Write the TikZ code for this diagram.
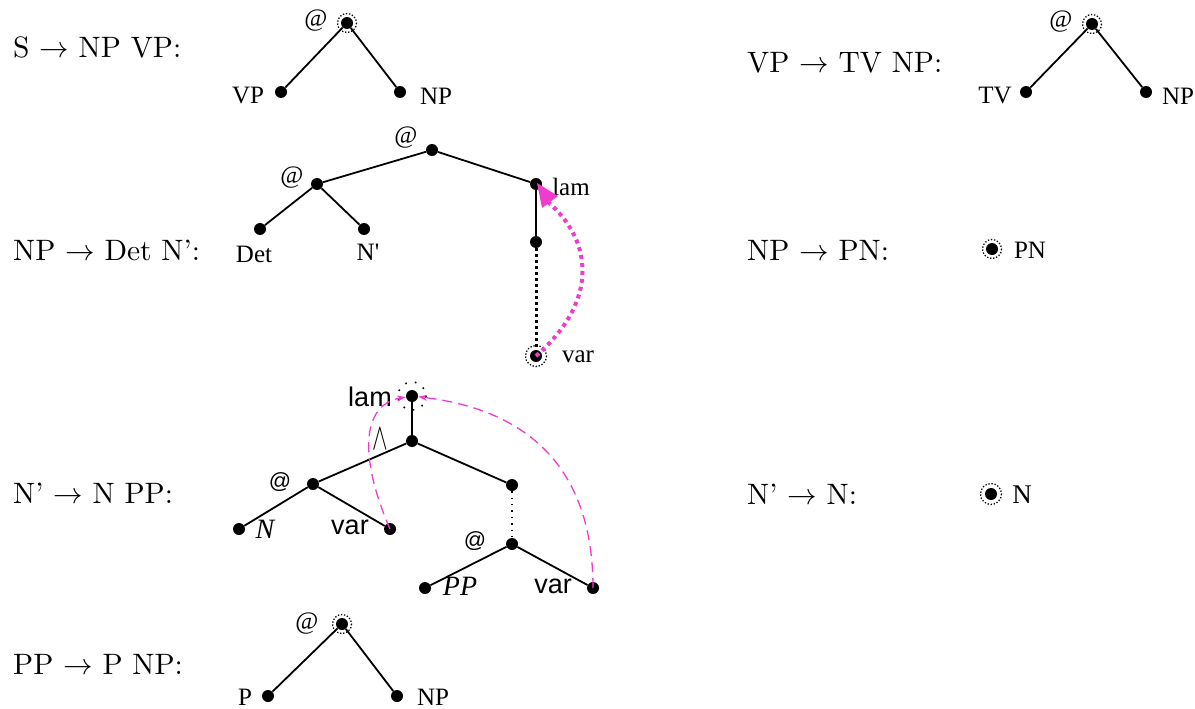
\documentclass[tikz,border=0pt]{standalone}
\usepackage{fix-cm}
\usepackage{graphicx}
\usepackage{fontspec}
\setmainfont{lmroman10-regular.otf}
\newfontfamily\tms{Liberation Serif}
\newfontfamily\hlv{Liberation Sans}
\usetikzlibrary{arrows.meta}
\definecolor{mag}{RGB}{240,60,205}
\tikzset{
  dot/.style={circle, fill=black, inner sep=0pt, minimum size=12pt},
  edge/.style={line width=1.8pt},
  rule/.style={anchor=west, inner sep=0pt, font=\fontsize{29.5}{34}\selectfont},
  tl/.style={inner sep=0pt, font=\fontsize{25}{30}\selectfont\tms},
  sl/.style={inner sep=0pt, font=\fontsize{27}{32}\selectfont\hlv},
  il/.style={inner sep=0pt, font=\fontsize{28}{32}\selectfont\tms\itshape},
  ring/.style={line width=1.3pt, dash pattern=on 1.3pt off 1.8pt},
  thindots/.style={line width=1.4pt, dash pattern=on 1.4pt off 5pt},
  thickdots/.style={line width=3pt, dash pattern=on 3pt off 3pt},
  magdots/.style={mag, line width=4pt, dash pattern=on 4pt off 4pt},
  magdash/.style={mag, line width=1.3pt, dash pattern=on 10pt off 6pt, -{Stealth[length=9pt,width=6pt]}}
}
\begin{document}
\begin{tikzpicture}[x=1pt,y=-1pt]
\useasboundingbox (0,0) rectangle (1195,709);
% rule labels
\node[rule] (l1) at (13,47) {S $\rightarrow$ NP VP:};
\node[rule] (l2) at (747,63) {VP $\rightarrow$ TV NP:};
\node[rule] (l3) at (13,250) {NP $\rightarrow$ Det N':};
\node[rule] (l4) at (747,250) {NP $\rightarrow$ PN:};
\node[rule] (l5) at (13,493) {N' $\rightarrow$ N PP:};
\node[rule] (l6) at (747,494) {N' $\rightarrow$ N:};
\node[rule] (l7) at (13,664) {PP $\rightarrow$ P NP:};

% tree 1: S -> NP VP
\node[dot] (a1) at (347,23) {};
\node[dot] (a1l) at (281,92) {};
\node[dot] (a1r) at (400,92) {};
\draw[ring] (a1) circle[radius=9.5];
\draw[edge] (a1) -- (a1l);
\draw[edge] (a1) -- (a1r);
\node[tl] (a1at) at (316,21) {@};
\node[tl] (a1vp) at (248,96) {VP};
\node[tl] (a1np) at (436,96) {NP};

% tree 2: VP -> TV NP
\node[dot] (b1) at (1092,24) {};
\node[dot] (b1l) at (1026,92) {};
\node[dot] (b1r) at (1146,92) {};
\draw[ring] (b1) circle[radius=9.5];
\draw[edge] (b1) -- (b1l);
\draw[edge] (b1) -- (b1r);
\node[tl] (b1at) at (1061,22) {@};
\node[tl] (b1tv) at (995,96) {TV};
\node[tl] (b1np) at (1178,96) {NP};

% tree 3: NP -> Det N'
\node[dot] (c0) at (432,150) {};
\node[dot] (c1) at (317,184) {};
\node[dot] (c1l) at (260,229) {};
\node[dot] (c1r) at (364,229) {};
\node[dot] (c2) at (536,184) {};
\node[dot] (c3) at (536,242) {};
\node[dot] (c4) at (536,356) {};
\draw[ring] (c4) circle[radius=10.5];
\draw[edge] (c0) -- (c1);
\draw[edge] (c0) -- (c2);
\draw[edge] (c1) -- (c1l);
\draw[edge] (c1) -- (c1r);
\draw[edge] (c2) -- (c3);
\draw[thickdots] (c3) -- (c4);
\node[tl] (c0at) at (406,138) {@};
\node[tl] (c1at) at (292,178) {@};
\node[tl] (cdet) at (254,254) {Det};
\node[tl] (cn) at (368,252) {N'};
\node[tl] (clam) at (571,187) {lam};
\node[tl] (cvar) at (578,357) {var};
\draw[magdots] (c4.center) .. controls (600,300) and (592,240) .. (548,202);
\coordinate (ctip) at (537,183);
\fill[mag] (ctip) -- (558,196) -- (542,208) -- cycle;

% single nodes
\node[dot] (d1) at (992,249) {};
\draw[ring] (d1) circle[radius=9.5];
\node[tl] (dpn) at (1030,250) {PN};
\node[dot] (e1) at (991,494) {};
\draw[ring] (e1) circle[radius=10.5];
\node[tl, font=\fontsize{27}{32}\selectfont\tms] (en) at (1022,495) {N};

% tree 4: N' -> N PP
\node[dot] (f0) at (412,396) {};
\draw[line width=1.6pt, dash pattern=on 1.6pt off 8.2pt] (f0) circle[radius=14];
\node[dot] (f1) at (412,441) {};
\node[dot] (f2) at (313,484) {};
\node[dot] (f2l) at (239,529) {};
\node[dot] (f2r) at (390,529) {};
\node[dot] (f3) at (512,485) {};
\node[dot] (f4) at (512,544) {};
\node[dot] (f4l) at (425,588) {};
\node[dot] (f4r) at (593,588) {};
\draw[edge] (f0) -- (f1);
\draw[edge] (f1) -- (f2);
\draw[edge] (f1) -- (f3);
\draw[edge] (f2) -- (f2l);
\draw[edge] (f2) -- (f2r);
\draw[thindots] (f3) -- (f4);
\draw[edge] (f4) -- (f4l);
\draw[edge] (f4) -- (f4r);
\node[sl] (flam) at (370,397) {lam};
\node[inner sep=0pt, font=\fontsize{22}{24}\selectfont\hlv] (f2at) at (280,482) {@};
\node[inner sep=0pt, font=\fontsize{22}{24}\selectfont\hlv] (f4at) at (475,541) {@};
\node[inner sep=0pt, font=\fontsize{26}{30}\selectfont] (fwedge) at (380,439) {\scalebox{0.9}[1.45]{$\wedge$}};
\node[il] (fn) at (265,529) {N};
\node[sl] (fvar1) at (350,527) {var};
\node[il] (fpp) at (460,586) {PP};
\node[sl] (fvar2) at (553,586) {var};
\draw[magdash] (f2r.center) .. controls (360,460) and (360,405) .. (f0);
\draw[magdash] (f4r.center) .. controls (593,470) and (530,410) .. (f0);

% tree 5: PP -> P NP
\node[dot] (g1) at (342,624) {};
\node[dot] (g1l) at (268,696) {};
\node[dot] (g1r) at (397,696) {};
\draw[ring] (g1) circle[radius=9.5];
\draw[edge] (g1) -- (g1l);
\draw[edge] (g1) -- (g1r);
\node[tl] (g1at) at (307,624) {@};
\node[tl] (g1p) at (245,697) {P};
\node[tl] (g1np) at (433,697) {NP};
\end{tikzpicture}
\end{document}
